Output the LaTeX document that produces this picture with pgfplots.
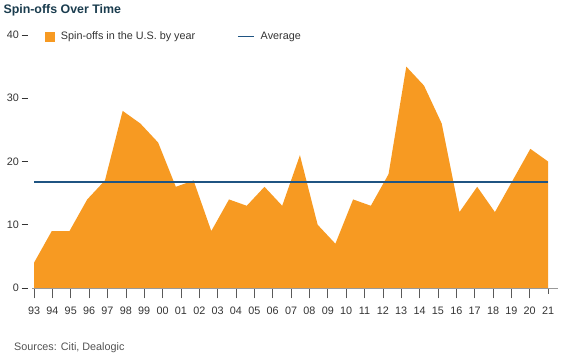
\documentclass[border=0pt]{standalone}
\usepackage{pgfplots}
\pgfplotsset{compat=1.18}
\usepackage{fontspec}
\setmainfont{Liberation Sans}
\definecolor{spinorange}{RGB}{247,154,34}
\definecolor{avgblue}{RGB}{31,84,130}
\definecolor{titleteal}{RGB}{26,60,78}
\definecolor{txt}{RGB}{51,51,51}
\begin{document}
\begin{tikzpicture}
\begin{axis}[
  scale only axis, width=525.8pt, height=253pt,
  xmin=-0.1, xmax=28.54, ymin=0, ymax=40,
  axis x line=bottom, axis y line=left,
  x axis line style={-, draw=gray!80, line width=0.8pt},
  y axis line style={draw=none},
  xtick={0,...,28},
  xticklabels={93,94,95,96,97,98,99,00,01,02,03,04,05,06,07,08,09,10,11,12,13,14,15,16,17,18,19,20,21},
  ytick={0,10,20,30,40},
  /pgf/number format/assume math mode=true,
  tick label style={font=\fontsize{10.8}{12}\selectfont, text=txt},
  tick align=outside,
  major tick length=10.3pt,
  xtick style={draw=black!65, line width=0.6pt, shorten <=4.7pt},
  ytick style={draw=none},
  yticklabel={\pgfmathprintnumber{\tick}\hspace{2.5pt}\rule[3.6pt]{6.5pt}{0.6pt}},
  yticklabel style={anchor=east, inner sep=0pt, xshift=6.3pt},
  xticklabel style={anchor=north, inner sep=0pt, yshift=-8.7pt},
  legend style={at={(rel axis cs:0.0243,0.994)}, anchor=west, draw=none, fill=none,
    inner sep=0pt, outer sep=0pt, font=\fontsize{10.8}{12}\selectfont, text=txt,
    nodes={inner sep=0pt},
    /tikz/every odd column/.append style={column sep=6pt},
    /tikz/every even column/.append style={column sep=42pt}},
  legend columns=2,
  clip=false,
]
\coordinate (ll) at (rel axis cs:0,0);
\addplot[fill=spinorange, draw=none,
  legend image code/.code={\fill[spinorange] (0pt,-5pt) rectangle (10pt,5pt);}]
  coordinates {
  (0,4) (0.9655,9) (1.9310,9) (2.8966,14) (3.8621,17) (4.8276,28)
  (5.7931,26) (6.7586,23) (7.7241,16) (8.6897,17) (9.6552,9) (10.6207,14)
  (11.5862,13) (12.5517,16) (13.5172,13) (14.4828,21) (15.4483,10) (16.4138,7)
  (17.3793,14) (18.3448,13) (19.3103,18) (20.2759,35) (21.2414,32) (22.2069,26)
  (23.1724,12) (24.1379,16) (25.1034,12) (26.0690,17) (27.0345,22) (28,20)
  } \closedcycle;
\addlegendentry{Spin-offs in the U.S. by year}
\addplot[avgblue, line width=1.5pt,
  legend image code/.code={\draw[avgblue, line width=1.5pt] (0pt,0pt) -- (16pt,0pt);}]
  coordinates {(0,16.77) (28,16.77)};
\addlegendentry{Average}
\end{axis}
\node[anchor=base west, inner sep=0pt, font=\bfseries\fontsize{12.4}{14}\selectfont, text=titleteal]
  at ([shift={(-28.9pt,274pt)}]ll) {Spin-offs Over Time};
\node[anchor=base west, inner sep=0pt, font=\fontsize{10.8}{12}\selectfont, text=txt!85]
  at ([shift={(-18.2pt,-63pt)}]ll) {Sources: Citi, Dealogic};
\pgfresetboundingbox
\path[use as bounding box] ([shift={(-32.2pt,-70pt)}]ll) rectangle ([shift={(530.8pt,288pt)}]ll);
\end{tikzpicture}
\end{document}
